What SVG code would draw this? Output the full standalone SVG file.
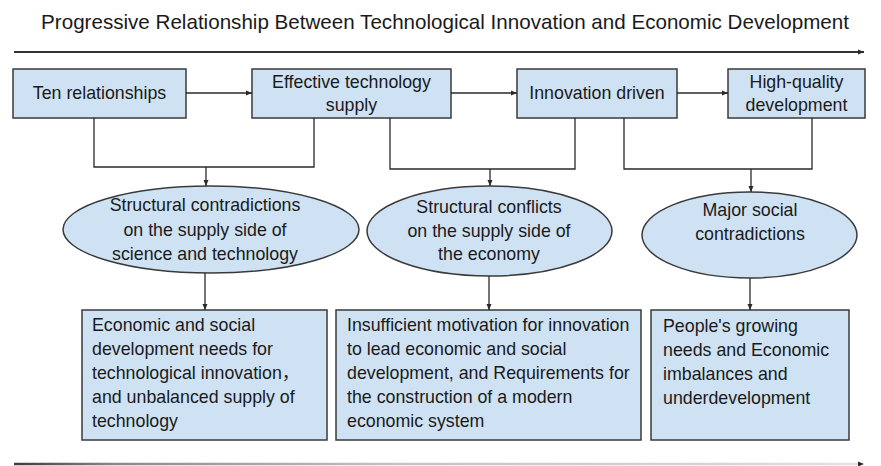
<svg xmlns="http://www.w3.org/2000/svg" width="881" height="466" viewBox="0 0 881 466">
  <style>
    .box { fill: #cfe2f3; stroke: #3a3a3a; stroke-width: 1.5; }
    .lbl { font-family: "Liberation Sans", Arial, "Noto Sans CJK SC", sans-serif; font-size: 17.8px; fill: #1a1a1a; }
    .c { text-anchor: middle; }
    .title { font-family: "Liberation Sans", Arial, sans-serif; font-size: 20.6px; fill: #1a1a1a; text-anchor: middle; }
    .wire { fill: none; stroke: #2a2a2a; stroke-width: 1.3; }
    .axis { fill: none; stroke: #333; stroke-width: 1.8; }
  </style>
  <defs>
    <marker id="ah" markerWidth="8" markerHeight="8" refX="7" refY="4" orient="auto" markerUnits="userSpaceOnUse">
      <path d="M1,1.5 L7,4 L1,6.5 z" fill="#2a2a2a"/>
    </marker>
    <linearGradient id="fade" x1="14" y1="0" x2="864" y2="0" gradientUnits="userSpaceOnUse">
      <stop offset="0" stop-color="#3c3c3c"/>
      <stop offset="0.12" stop-color="#8a8a8a"/>
      <stop offset="0.45" stop-color="#c4c4c4"/>
      <stop offset="0.85" stop-color="#d6d6d6"/>
      <stop offset="1" stop-color="#e4e4e4"/>
    </linearGradient>
  </defs>

  <rect width="881" height="466" fill="#ffffff"/>

  <text class="title" x="445" y="29">Progressive Relationship Between Technological Innovation and Economic Development</text>

  <!-- progress axes -->
  <g id="axes">
    <line class="axis" x1="14" y1="52" x2="864" y2="52" marker-end="url(#ah)"/>
    <line x1="14" y1="464" x2="858" y2="464" stroke="url(#fade)" stroke-width="2.6"/>
    <path d="M858,461.5 L864,464 L858,466.5 z" fill="#2a2a2a"/>
  </g>

  <!-- top row -->
  <g id="ten-relationships">
    <rect class="box" x="13" y="69" width="173" height="49"/>
    <text class="lbl c" x="99.5" y="99">Ten relationships</text>
  </g>
  <g id="effective-supply">
    <rect class="box" x="252" y="69" width="199" height="49"/>
    <text class="lbl c" x="351.5" y="88">Effective technology</text>
    <text class="lbl c" x="351.5" y="111">supply</text>
  </g>
  <g id="innovation-driven">
    <rect class="box" x="517" y="69" width="160" height="49"/>
    <text class="lbl c" x="597" y="99">Innovation driven</text>
  </g>
  <g id="high-quality">
    <rect class="box" x="728" y="69" width="137" height="49"/>
    <text class="lbl c" x="796.5" y="88">High-quality</text>
    <text class="lbl c" x="796.5" y="111">development</text>
  </g>

  <!-- middle row -->
  <g id="tech-supply-contradictions">
    <ellipse class="box" cx="211" cy="229.5" rx="148" ry="43.5"/>
    <text class="lbl c" x="205" y="211">Structural contradictions</text>
    <text class="lbl c" x="205" y="236">on the supply side of</text>
    <text class="lbl c" x="205" y="260">science and technology</text>
  </g>
  <g id="economy-supply-conflicts">
    <ellipse class="box" cx="489.5" cy="231" rx="122.5" ry="45"/>
    <text class="lbl c" x="489" y="213">Structural conflicts</text>
    <text class="lbl c" x="489" y="237">on the supply side of</text>
    <text class="lbl c" x="489" y="260">the economy</text>
  </g>
  <g id="social-contradictions">
    <ellipse class="box" cx="749.5" cy="235" rx="107.5" ry="43"/>
    <text class="lbl c" x="750" y="216">Major social</text>
    <text class="lbl c" x="750" y="240">contradictions</text>
  </g>

  <!-- bottom row -->
  <g id="needs-and-supply">
    <rect class="box" x="82" y="310" width="245" height="130"/>
    <text class="lbl" x="92" y="331">Economic and social</text>
    <text class="lbl" x="92" y="355">development needs for</text>
    <text class="lbl" x="92" y="379">technological innovation，</text>
    <text class="lbl" x="92" y="403">and unbalanced supply of</text>
    <text class="lbl" x="92" y="427">technology</text>
  </g>
  <g id="motivation-and-system">
    <rect class="box" x="336" y="310" width="305" height="130"/>
    <text class="lbl" x="347" y="331">Insufficient motivation for innovation</text>
    <text class="lbl" x="347" y="355">to lead economic and social</text>
    <text class="lbl" x="347" y="379">development, and Requirements for</text>
    <text class="lbl" x="347" y="403">the construction of a modern</text>
    <text class="lbl" x="347" y="427">economic system</text>
  </g>
  <g id="needs-and-imbalance">
    <rect class="box" x="651" y="310" width="198" height="130"/>
    <text class="lbl" x="663" y="332">People's growing</text>
    <text class="lbl" x="663" y="356">needs and Economic</text>
    <text class="lbl" x="663" y="380">imbalances and</text>
    <text class="lbl" x="663" y="404">underdevelopment</text>
  </g>

  <!-- connectors -->
  <g id="connectors">
    <line class="wire" x1="186" y1="93" x2="252" y2="93" marker-end="url(#ah)"/>
    <line class="wire" x1="451" y1="93" x2="517" y2="93" marker-end="url(#ah)"/>
    <line class="wire" x1="677" y1="93" x2="728" y2="93" marker-end="url(#ah)"/>

    <polyline class="wire" points="94,118 94,167 314,167 314,118"/>
    <line class="wire" x1="206" y1="167" x2="206" y2="186" marker-end="url(#ah)"/>

    <polyline class="wire" points="390,118 390,169 575,169 575,118"/>
    <line class="wire" x1="490" y1="169" x2="490" y2="186" marker-end="url(#ah)"/>

    <polyline class="wire" points="624,118 624,169 812,169 812,118"/>
    <line class="wire" x1="751" y1="169" x2="751" y2="192" marker-end="url(#ah)"/>

    <line class="wire" x1="205" y1="273" x2="205" y2="310" marker-end="url(#ah)"/>
    <line class="wire" x1="489" y1="276" x2="489" y2="310" marker-end="url(#ah)"/>
    <line class="wire" x1="750" y1="278" x2="750" y2="310" marker-end="url(#ah)"/>
  </g>
</svg>
